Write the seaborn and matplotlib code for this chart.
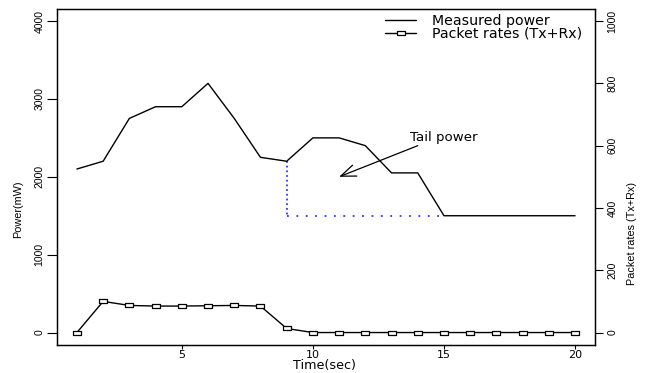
import numpy as np
import pandas as pd
import matplotlib
matplotlib.use("Agg")
import matplotlib.pyplot as plt
from matplotlib.lines import Line2D
import seaborn as sns

# Time axis (seconds)
time_sec = [1, 2, 3, 4, 5, 6, 7, 8, 9, 10, 11, 12, 13, 14, 15, 16, 17, 18, 19, 20]
# Measured power (mW), left axis
power_mw = [2100, 2200, 2750, 2900, 2900, 3200, 2750, 2250, 2200, 2500,
            2500, 2400, 2050, 2050, 1500, 1500, 1500, 1500, 1500, 1500]
# Packet rates (Tx+Rx), right axis
packet_rates = [0, 100, 87, 85, 85, 86, 87, 85, 13, 0,
                0, 0, 0, 0, 0, 0, 0, 0, 0, 0]

# Tail-power guide: from the end of traffic down to the idle level
tail_start_x = 9
tail_end_x = 15
tail_top = 2200
tail_level = 1500

left_ticks = [0, 1000, 2000, 3000, 4000]
right_ticks = [0, 200, 400, 600, 800, 1000]
x_ticks = [5, 10, 15, 20]

sns.set_theme(style="ticks")
plt.rcParams["font.family"] = ["DejaVu Sans"]
plt.rcParams["text.color"] = "black"
plt.rcParams["axes.labelcolor"] = "black"

df = pd.DataFrame({"time": time_sec, "power": power_mw, "packets": packet_rates})

fig = plt.figure(figsize=(6.48, 3.73), dpi=100)
ax_h = (345 - 8.6) / 373
ax_w = (595 - 57) / 648
ax = fig.add_axes([57 / 648, 1 - 345 / 373, ax_w, ax_h])
ax2 = ax.twinx()

sns.lineplot(data=df, x="time", y="power", ax=ax, color="black", lw=1.0,
             legend=False, zorder=3)

rect = [(-1, -0.6), (1, -0.6), (1, 0.6), (-1, 0.6), (-1, -0.6)]
sns.lineplot(data=df, x="time", y="packets", ax=ax2, color="black", lw=1.0,
             marker=rect, markersize=5.5, markerfacecolor="white",
             markeredgecolor="black", markeredgewidth=0.9, legend=False)

# Dotted blue tail-power guide
ax.plot([tail_start_x, tail_start_x], [tail_top, tail_level], color="#3333ff",
        lw=1.3, linestyle=(0, (1, 1.6)), zorder=2)
ax.plot([tail_start_x, tail_end_x], [tail_level, tail_level], color="#3333ff",
        lw=1.3, linestyle=(0, (1, 4.2)), zorder=2)

ax.annotate("", xy=(11, 2000), xytext=(14, 2400),
            arrowprops=dict(arrowstyle="->,head_length=0.9,head_width=0.35",
                            color="black", lw=0.9, shrinkA=0, shrinkB=0))
ax.text(15, 2510, "Tail power", ha="center", va="center", fontsize=9.6,
        color="black")

ax.set_xlim(0.24, 20.76)
ax.set_ylim(-160, 4160)
ax2.set_ylim(-40, 1040)
ax.set_xticks(x_ticks)
ax.set_yticks(left_ticks)
ax2.set_yticks(right_ticks)

vfont = ["Liberation Sans", "DejaVu Sans"]
ax.set_xlabel("Time(sec)", fontsize=9.2)
ax.xaxis.label.set_va("top")
ax.xaxis.set_label_coords(0.498, -(359.3 - 345) / 336.4)

ax.set_ylabel("Power(mW)", fontsize=7.8, family=vfont)
ax.yaxis.label.set_va("center")
ax.yaxis.set_label_coords((18 - 57) / 538, (345 - 209.5) / 336.4)

ax2.set_ylabel("Packet rates (Tx+Rx)", fontsize=7.8, family=vfont)
ax2.yaxis.label.set_va("center")
ax2.yaxis.set_label_coords((632 - 57) / 538, (345 - 233.5) / 336.4)

ax.tick_params(axis="x", length=3, width=0.8, pad=0.3, labelsize=8,
               colors="black")
ax.tick_params(axis="y", length=7, width=0.8, pad=2, labelsize=7.5,
               labelrotation=90, colors="black")
ax2.tick_params(axis="y", length=6, width=0.8, pad=3, labelsize=7.5,
                labelrotation=90, colors="black")
for lab in ax.get_yticklabels() + ax2.get_yticklabels():
    lab.set_family(vfont)
    lab.set_va("center")

for a in (ax, ax2):
    for s in a.spines.values():
        s.set_visible(True)
        s.set_linewidth(0.9)
        s.set_color("black")
    a.grid(False)

handles = [
    Line2D([], [], color="black", lw=1.0),
    Line2D([], [], color="black", lw=1.0, marker=rect, markersize=5.5,
           markerfacecolor="white", markeredgecolor="black", markeredgewidth=0.9),
]
ax.legend(handles, ["Measured power", "Packet rates (Tx+Rx)"], loc="upper right",
          bbox_to_anchor=(0.99, 1.006), frameon=False, fontsize=10.2,
          handlelength=2.2, handletextpad=1.1, labelspacing=-0.1,
          borderaxespad=0.25, borderpad=0.3)

fig.savefig("out.png", dpi=100)
